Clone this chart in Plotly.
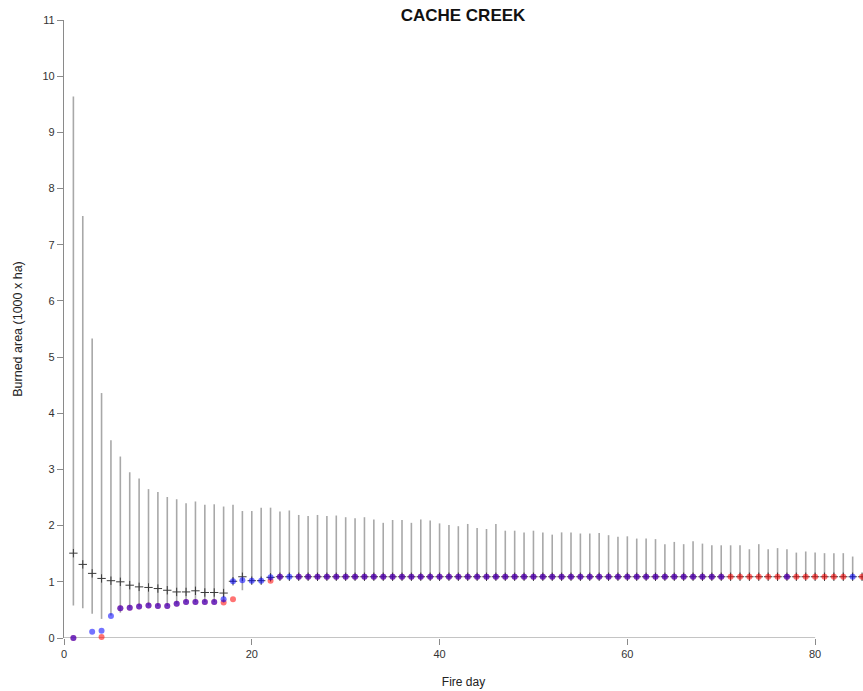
import plotly.graph_objects as go

days = list(range(1, 86))

high = [9.64, 7.51, 5.33, 4.36, 3.52, 3.23, 2.95, 2.84, 2.65, 2.60,
        2.51, 2.47, 2.40, 2.43, 2.37, 2.38, 2.34, 2.37, 2.26, 2.26,
        2.32, 2.32, 2.25, 2.27, 2.19, 2.17, 2.19, 2.17, 2.18, 2.15,
        2.13, 2.15, 2.11, 2.05, 2.10, 2.10, 2.05, 2.11, 2.09, 2.04,
        2.01, 1.99, 2.03, 1.96, 1.94, 2.03, 1.91, 1.91, 1.88, 1.91,
        1.88, 1.84, 1.88, 1.88, 1.86, 1.86, 1.87, 1.83, 1.80, 1.81,
        1.77, 1.77, 1.76, 1.67, 1.71, 1.67, 1.72, 1.68, 1.65, 1.65,
        1.65, 1.65, 1.58, 1.67, 1.58, 1.60, 1.58, 1.52, 1.54, 1.52,
        1.51, 1.51, 1.51, 1.45, 1.09]

low = [0.58, 0.53, 0.43, 0.34, 0.40, 0.45, 0.54, 0.56, 0.58, 0.57,
       0.57, 0.61, 0.64, 0.64, 0.64, 0.64, 0.63, 1.01, 0.85, 1.02,
       1.02, 1.02] + [1.09] * 63

median = [1.51, 1.31, 1.15, 1.06, 1.02, 1.00, 0.94, 0.91, 0.90, 0.88,
          0.85, 0.82, 0.82, 0.84, 0.81, 0.81, 0.80, 1.01, 1.09, 1.02,
          1.02, 1.08] + [1.09] * 63

blue = ([0.00, None, 0.11, 0.13, 0.39, 0.53, 0.54, 0.56, 0.58, 0.57,
         0.57, 0.61, 0.64, 0.64, 0.64, 0.64, 0.69, 1.01, 1.03, 1.02,
         1.02, 1.08] + [1.09] * 48
        + [None] * 6 + [1.09] + [None] * 6 + [1.09, None])

red = ([0.00, None, None, 0.02, None, 0.53, 0.54, 0.56, 0.58, 0.57,
        0.57, 0.61, 0.64, 0.64, 0.64, 0.64, 0.63, 0.69, None, None,
        None, 1.02, 1.09, None] + [1.09] * 59 + [None, 1.09])

err_plus = [h - m for h, m in zip(high, median)]
err_minus = [m - l for m, l in zip(median, low)]

fig = go.Figure()

fig.add_trace(go.Scatter(
    x=days, y=median, mode="markers",
    marker=dict(size=1, color="rgba(0,0,0,0)"),
    error_y=dict(type="data", symmetric=False, array=err_plus,
                 arrayminus=err_minus, width=0, thickness=1.6,
                 color="#a8a8a8"),
    hoverinfo="skip", showlegend=False, cliponaxis=False))

fig.add_trace(go.Scatter(
    x=days, y=median, mode="markers",
    marker=dict(symbol="cross-thin", size=6,
                line=dict(width=1, color="#3a3a3a")),
    showlegend=False, cliponaxis=False))

fig.add_trace(go.Scatter(
    x=days, y=red, mode="markers",
    marker=dict(symbol="circle", size=6, color="rgba(255,0,0,0.55)",
                line=dict(width=0)),
    showlegend=False, cliponaxis=False))

fig.add_trace(go.Scatter(
    x=days, y=blue, mode="markers",
    marker=dict(symbol="circle", size=6, color="rgba(0,0,255,0.55)",
                line=dict(width=0)),
    showlegend=False, cliponaxis=False))

font = "Liberation Sans, Arial, sans-serif"

fig.add_shape(type="line", xref="x", yref="y", x0=0, x1=80, y0=0, y1=0,
              line=dict(color="#8a8a8a", width=1.2), layer="below")

fig.update_layout(
    width=863, height=691,
    margin=dict(l=64, r=0, t=20, b=53),
    paper_bgcolor="white", plot_bgcolor="white",
    font=dict(family=font, size=11, color="#333333"),
    title=dict(text="<b>CACHE CREEK</b>", x=463 / 863, xanchor="center",
               y=1 - 15 / 691, yanchor="middle",
               font=dict(family=font, size=17, color="#111111")),
    xaxis=dict(range=[0, 85.1], tickvals=[0, 20, 40, 60, 80],
               showgrid=False, zeroline=False, showline=False,
               ticks="outside", ticklen=6, tickcolor="#8a8a8a",
               tickfont=dict(size=11, color="#333333"),
               title=dict(text="Fire day", standoff=18,
                          font=dict(size=12, color="#222222"))),
    yaxis=dict(range=[0, 11], tickvals=list(range(0, 12)),
               showgrid=False, zeroline=False, showline=True,
               linecolor="#8a8a8a", linewidth=1.2,
               ticks="outside", ticklen=6, tickcolor="#8a8a8a",
               tickfont=dict(size=11, color="#333333"),
               title=dict(text="Burned area (1000 x ha)", standoff=17,
                          font=dict(size=12.5, color="#222222"))),
)

fig.write_html("out.html")
